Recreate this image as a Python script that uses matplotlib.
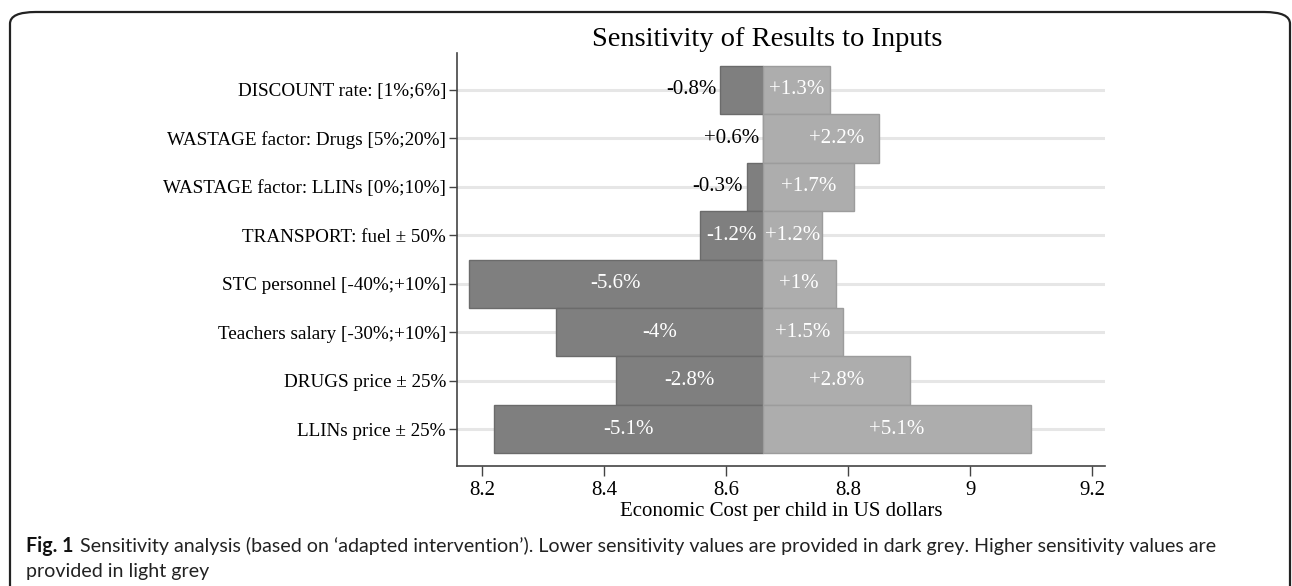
import matplotlib.pyplot as plt
from matplotlib.patches import FancyBboxPatch

# values (economic cost per child, US$)
categories = ["DISCOUNT rate: [1%;6%]",
              "WASTAGE factor: Drugs [5%;20%]",
              "WASTAGE factor: LLINs [0%;10%]",
              "TRANSPORT: fuel \u00b1 50%",
              "STC personnel [-40%;+10%]",
              "Teachers salary [-30%;+10%]",
              "DRUGS price \u00b1 25%",
              "LLINs price \u00b1 25%"]
base = 8.66
low = [8.59, 8.71, 8.634, 8.557, 8.178, 8.322, 8.42, 8.22]
high = [8.77, 8.851, 8.81, 8.758, 8.78, 8.791, 8.902, 9.10]
low_lab = ["-0.8%", "+0.6%", "-0.3%", "-1.2%", "-5.6%", "-4%", "-2.8%", "-5.1%"]
high_lab = ["+1.3%", "+2.2%", "+1.7%", "+1.2%", "+1%", "+1.5%", "+2.8%", "+5.1%"]
xticks = [8.2, 8.4, 8.6, 8.8, 9, 9.2]

serif = "Liberation Serif"
dark = "#7f7f7f"
light = "#adadad"

fig = plt.figure(figsize=(12.92, 5.86), dpi=100)
ax = fig.add_axes([457/1292, 1 - 466/586, (1105-457)/1292, (466-53)/586])

ypos = list(range(len(categories)))

for y in ypos:
    ax.axhline(y, color="#e6e6e6", lw=2.2, zorder=0)

# low side first, high side drawn over it
ax.barh(ypos, [l - base for l in low], left=base, height=1.0,
        color=dark, edgecolor="#6b6b6b", lw=1, zorder=2)
ax.barh(ypos, [h - base for h in high], left=base, height=1.0,
        color=light, edgecolor="#9c9c9c", lw=1, zorder=3)

for y, l, h, ll, hl in zip(ypos, low, high, low_lab, high_lab):
    if base - l > 0.08:
        ax.text((l + base) / 2, y, ll, ha="center", va="center", color="white",
                fontsize=15, family=serif, zorder=5)
    else:
        ax.text(min(l, base) - 0.006, y, ll, ha="right", va="center", color="black",
                fontsize=15, family=serif, zorder=5)
    ax.text((max(l, base) + h) / 2, y, hl, ha="center", va="center", color="white",
            fontsize=15, family=serif, zorder=5)

ax.set_xlim(8.159, 9.221)
ax.set_ylim(len(categories) - 1 + 0.76, -0.76)
ax.set_xticks(xticks)
ax.set_xticklabels(["8.2", "8.4", "8.6", "8.8", "9", "9.2"], family=serif, fontsize=15)
ax.set_yticks(ypos)
ax.set_yticklabels(categories, family=serif, fontsize=13.8)
ax.tick_params(axis="both", direction="out", length=6, width=1, color="#444444", pad=2)
ax.tick_params(axis="x", length=7, pad=4)
for s in ["top", "right"]:
    ax.spines[s].set_visible(False)
for s in ["left", "bottom"]:
    ax.spines[s].set_color("#444444")
    ax.spines[s].set_linewidth(1.2)
ax.set_xlabel("Economic Cost per child in US dollars", family=serif, fontsize=15, labelpad=1)

fig.text(767/1292, 1 - 39/586, "Sensitivity of Results to Inputs", ha="center", va="center",
         family=serif, fontsize=20.5)

# outer frame with rounded corners
frame = FancyBboxPatch((10/1292, -0.1), 1280/1292, 1.1 - 12/586,
                       boxstyle="round,pad=0,rounding_size=0.02",
                       transform=fig.transFigure, fill=False, ec="#222222", lw=1.6)
fig.patches.append(frame)

cap_size = 14.1
bold = fig.text(26/1292, 1 - 546/586, "Fig. 1", ha="left", va="center",
                family="Lato", fontsize=cap_size, fontweight="bold", color="#111111")
renderer = fig.canvas.get_renderer()
bb = bold.get_window_extent(renderer)
fig.text((bb.x1 + 6) / 1292, 1 - 546/586,
         "Sensitivity analysis (based on \u2018adapted intervention\u2019). "
         "Lower sensitivity values are provided in dark grey. Higher sensitivity values are",
         ha="left", va="center", family="Lato", fontsize=cap_size, color="#222222")
fig.text(26/1292, 1 - 571/586, "provided in light grey", ha="left", va="center",
         family="Lato", fontsize=cap_size, color="#222222")

fig.savefig("out.png", dpi=100)
